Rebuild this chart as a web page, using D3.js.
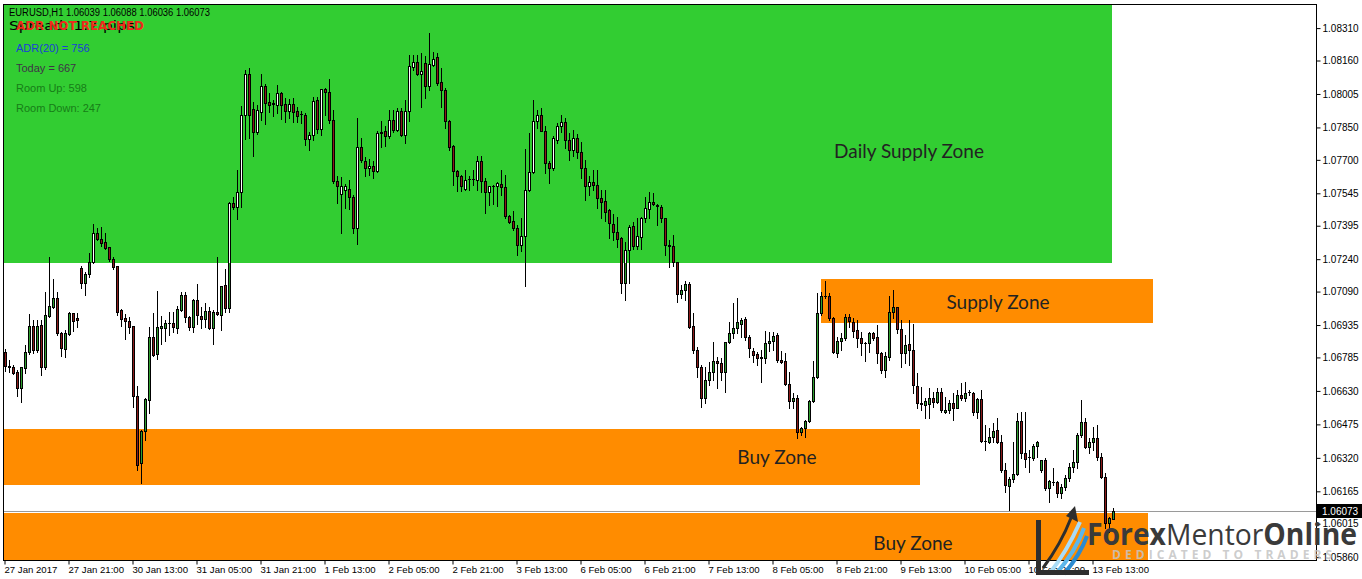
<!DOCTYPE html>
<html><head><meta charset="utf-8">
<script src="https://cdn.jsdelivr.net/npm/d3@7"></script>
<style>body{margin:0;background:#fff}svg{display:block}</style>
</head><body><svg id="c" width="1362" height="579"></svg>
<script>
// ---------------- DATA ----------------
const opens=[1.06810,1.06745,1.06741,1.06718,1.06644,1.06736,1.06810,1.06931,1.06819,1.06935,1.06741,1.06977,1.07019,1.07060,1.06898,1.06824,1.06894,1.06991,1.06968,1.07199,1.07130,1.07171,1.07227,1.07361,1.07333,1.07320,1.07296,1.07241,1.07208,1.07005,1.06968,1.06954,1.06931,1.06607,1.06296,1.06444,1.06588,1.06880,1.06801,1.06921,1.06921,1.06945,1.06945,1.06921,1.07005,1.07074,1.06972,1.06926,1.07051,1.06977,1.06963,1.07000,1.06921,1.06995,1.06982,1.07120,1.07014,1.07500,1.07482,1.07551,1.07908,1.08097,1.07935,1.07829,1.07921,1.08042,1.07968,1.07963,1.07954,1.08009,1.07958,1.07926,1.07958,1.07926,1.07912,1.07908,1.07796,1.07815,1.07977,1.07843,1.08028,1.08014,1.07884,1.07602,1.07542,1.07560,1.07565,1.07528,1.07384,1.07759,1.07695,1.07662,1.07671,1.07648,1.07829,1.07833,1.07810,1.07884,1.07838,1.07926,1.07815,1.07926,1.08130,1.08153,1.08097,1.08148,1.08042,1.08139,1.08176,1.08060,1.08023,1.07880,1.07764,1.07648,1.07625,1.07565,1.07611,1.07611,1.07607,1.07695,1.07602,1.07551,1.07579,1.07579,1.07588,1.07574,1.07440,1.07417,1.07384,1.07306,1.07347,1.07560,1.07644,1.07880,1.07908,1.07833,1.07685,1.07662,1.07792,1.07857,1.07875,1.07792,1.07745,1.07801,1.07736,1.07662,1.07579,1.07597,1.07583,1.07523,1.07509,1.07468,1.07403,1.07366,1.07338,1.07130,1.07282,1.07394,1.07301,1.07343,1.07431,1.07472,1.07505,1.07486,1.07482,1.07431,1.07306,1.07301,1.07227,1.07079,1.07097,1.07125,1.06931,1.06819,1.06741,1.06597,1.06681,1.06718,1.06769,1.06759,1.06718,1.06857,1.06898,1.06921,1.06940,1.06963,1.06880,1.06815,1.06801,1.06782,1.06782,1.06852,1.06861,1.06889,1.06773,1.06769,1.06662,1.06583,1.06597,1.06440,1.06458,1.06491,1.06583,1.06694,1.06991,1.07070,1.07070,1.06968,1.06806,1.06861,1.06875,1.06972,1.06949,1.06912,1.06875,1.06852,1.06852,1.06898,1.06880,1.06806,1.06727,1.06787,1.06995,1.07019,1.06917,1.06806,1.06847,1.06819,1.06653,1.06574,1.06565,1.06569,1.06597,1.06579,1.06625,1.06532,1.06542,1.06574,1.06551,1.06611,1.06597,1.06625,1.06620,1.06532,1.06593,1.06398,1.06394,1.06417,1.06449,1.06394,1.06264,1.06190,1.06222,1.06245,1.06491,1.06343,1.06324,1.06319,1.06375,1.06264,1.06310,1.06181,1.06208,1.06208,1.06157,1.06185,1.06227,1.06278,1.06301,1.06426,1.06486,1.06370,1.06394,1.06412,1.06324,1.06231,1.06019,1.06039];
const highs=[1.06824,1.06773,1.06750,1.06727,1.06741,1.06843,1.06986,1.06958,1.06958,1.06958,1.07088,1.07250,1.07148,1.07088,1.06903,1.06912,1.06995,1.06991,1.06991,1.07208,1.07181,1.07269,1.07403,1.07384,1.07389,1.07361,1.07296,1.07250,1.07208,1.07009,1.06986,1.06972,1.06931,1.06653,1.06449,1.06597,1.06926,1.06991,1.07093,1.06977,1.06958,1.06995,1.06995,1.07023,1.07088,1.07088,1.06977,1.07056,1.07125,1.07019,1.07037,1.07019,1.07005,1.07250,1.07116,1.07195,1.07505,1.07528,1.07653,1.07949,1.08116,1.08125,1.07968,1.07954,1.08097,1.08051,1.08009,1.07977,1.08046,1.08014,1.07986,1.07982,1.07986,1.07945,1.07926,1.07917,1.07829,1.07991,1.07991,1.08028,1.08033,1.08074,1.07931,1.07625,1.07620,1.07588,1.07607,1.07537,1.07894,1.07801,1.07713,1.07704,1.07695,1.07833,1.07880,1.07857,1.07931,1.07931,1.07940,1.07940,1.07977,1.08185,1.08185,1.08185,1.08195,1.08181,1.08287,1.08199,1.08195,1.08125,1.08033,1.07884,1.07769,1.07653,1.07630,1.07653,1.07625,1.07653,1.07718,1.07718,1.07616,1.07579,1.07583,1.07597,1.07653,1.07630,1.07445,1.07463,1.07398,1.07431,1.07750,1.07824,1.07977,1.07931,1.07940,1.07857,1.07695,1.07810,1.07871,1.07908,1.07894,1.07824,1.07838,1.07820,1.07783,1.07699,1.07625,1.07653,1.07653,1.07560,1.07560,1.07472,1.07449,1.07435,1.07343,1.07320,1.07398,1.07412,1.07431,1.07435,1.07528,1.07551,1.07546,1.07495,1.07491,1.07431,1.07329,1.07352,1.07227,1.07120,1.07139,1.07134,1.06991,1.06833,1.06750,1.06741,1.06764,1.06857,1.06787,1.06782,1.06857,1.06949,1.07037,1.07060,1.06968,1.06972,1.06889,1.06829,1.06810,1.06819,1.06907,1.06903,1.06903,1.06898,1.06815,1.06806,1.06718,1.06620,1.06611,1.06463,1.06495,1.06588,1.06769,1.07083,1.07088,1.07139,1.07083,1.06972,1.06880,1.06898,1.06986,1.06986,1.06968,1.06958,1.06903,1.06857,1.06903,1.06903,1.06935,1.06810,1.06810,1.07070,1.07097,1.07019,1.06958,1.06889,1.06958,1.06940,1.06713,1.06648,1.06595,1.06644,1.06625,1.06644,1.06644,1.06602,1.06588,1.06620,1.06634,1.06667,1.06671,1.06634,1.06625,1.06597,1.06634,1.06472,1.06458,1.06482,1.06505,1.06426,1.06296,1.06231,1.06394,1.06528,1.06532,1.06532,1.06356,1.06384,1.06398,1.06310,1.06319,1.06218,1.06273,1.06213,1.06199,1.06241,1.06296,1.06356,1.06435,1.06588,1.06505,1.06412,1.06463,1.06472,1.06343,1.06250,1.06046,1.06088];
const lows=[1.06722,1.06718,1.06708,1.06607,1.06579,1.06713,1.06801,1.06806,1.06810,1.06704,1.06732,1.06972,1.07014,1.06889,1.06792,1.06787,1.06889,1.06907,1.06926,1.07107,1.07074,1.07157,1.07222,1.07329,1.07301,1.07287,1.07232,1.07195,1.06982,1.06931,1.06870,1.06898,1.06556,1.06264,1.06204,1.06403,1.06528,1.06792,1.06778,1.06847,1.06861,1.06889,1.06903,1.06898,1.07000,1.06949,1.06912,1.06903,1.06940,1.06921,1.06926,1.06917,1.06847,1.06982,1.06912,1.06995,1.06995,1.07472,1.07426,1.07482,1.07796,1.07801,1.07718,1.07820,1.07884,1.07866,1.07921,1.07903,1.07917,1.07889,1.07875,1.07894,1.07875,1.07875,1.07871,1.07769,1.07745,1.07792,1.07824,1.07815,1.07908,1.07871,1.07593,1.07500,1.07361,1.07477,1.07472,1.07361,1.07310,1.07690,1.07625,1.07630,1.07616,1.07644,1.07759,1.07764,1.07801,1.07829,1.07833,1.07810,1.07778,1.07880,1.08116,1.08093,1.07945,1.07986,1.08023,1.08134,1.08046,1.07945,1.07847,1.07745,1.07583,1.07556,1.07556,1.07560,1.07560,1.07583,1.07560,1.07551,1.07454,1.07491,1.07495,1.07486,1.07537,1.07431,1.07408,1.07375,1.07259,1.07278,1.07116,1.07556,1.07639,1.07847,1.07833,1.07639,1.07593,1.07653,1.07778,1.07829,1.07755,1.07699,1.07718,1.07708,1.07616,1.07514,1.07537,1.07560,1.07477,1.07431,1.07417,1.07338,1.07329,1.07296,1.07083,1.07051,1.07130,1.07287,1.07287,1.07287,1.07412,1.07431,1.07491,1.07398,1.07412,1.07259,1.07204,1.07208,1.07042,1.07060,1.07051,1.06921,1.06806,1.06694,1.06556,1.06574,1.06657,1.06681,1.06644,1.06681,1.06625,1.06852,1.06875,1.06898,1.06880,1.06866,1.06787,1.06764,1.06750,1.06671,1.06759,1.06815,1.06819,1.06764,1.06759,1.06657,1.06551,1.06551,1.06412,1.06426,1.06417,1.06486,1.06579,1.06690,1.06982,1.07060,1.06958,1.06806,1.06787,1.06819,1.06866,1.06926,1.06880,1.06833,1.06796,1.06769,1.06810,1.06866,1.06759,1.06713,1.06694,1.06773,1.06968,1.06898,1.06741,1.06759,1.06750,1.06620,1.06551,1.06542,1.06505,1.06505,1.06556,1.06574,1.06532,1.06528,1.06528,1.06495,1.06551,1.06588,1.06583,1.06611,1.06519,1.06505,1.06394,1.06356,1.06389,1.06394,1.06389,1.06255,1.06162,1.06079,1.06208,1.06241,1.06319,1.06278,1.06255,1.06310,1.06324,1.06255,1.06171,1.06116,1.06194,1.06139,1.06134,1.06171,1.06213,1.06255,1.06273,1.06417,1.06366,1.06343,1.06356,1.06310,1.06227,1.05995,1.05977,1.06036];
const closes=[1.06745,1.06741,1.06713,1.06644,1.06741,1.06810,1.06931,1.06819,1.06931,1.06741,1.06982,1.07023,1.07060,1.06898,1.06829,1.06898,1.06991,1.06954,1.06958,1.07130,1.07171,1.07227,1.07361,1.07333,1.07315,1.07292,1.07241,1.07204,1.06995,1.06963,1.06954,1.06926,1.06607,1.06287,1.06444,1.06593,1.06880,1.06796,1.06926,1.06931,1.06945,1.06943,1.06926,1.07009,1.07074,1.06972,1.06926,1.07051,1.06982,1.06963,1.07000,1.06921,1.06995,1.06986,1.07116,1.07014,1.07500,1.07482,1.07551,1.07908,1.08097,1.07908,1.07829,1.07931,1.08042,1.07963,1.07954,1.07960,1.08009,1.07954,1.07926,1.07958,1.07921,1.07903,1.07910,1.07796,1.07815,1.07972,1.07843,1.08028,1.08014,1.07884,1.07602,1.07579,1.07579,1.07579,1.07528,1.07384,1.07759,1.07699,1.07662,1.07671,1.07648,1.07824,1.07826,1.07810,1.07884,1.07838,1.07926,1.07815,1.07926,1.08134,1.08153,1.08097,1.08111,1.08042,1.08144,1.08167,1.08056,1.08023,1.07880,1.07759,1.07648,1.07625,1.07579,1.07607,1.07609,1.07613,1.07695,1.07602,1.07551,1.07579,1.07577,1.07593,1.07574,1.07440,1.07412,1.07384,1.07306,1.07347,1.07560,1.07644,1.07880,1.07908,1.07833,1.07685,1.07662,1.07801,1.07857,1.07875,1.07792,1.07745,1.07801,1.07736,1.07662,1.07579,1.07597,1.07583,1.07523,1.07505,1.07458,1.07408,1.07366,1.07333,1.07130,1.07282,1.07389,1.07301,1.07347,1.07431,1.07477,1.07505,1.07495,1.07491,1.07431,1.07306,1.07301,1.07227,1.07079,1.07097,1.07125,1.06926,1.06819,1.06741,1.06597,1.06681,1.06718,1.06769,1.06759,1.06718,1.06857,1.06898,1.06921,1.06949,1.06958,1.06880,1.06829,1.06796,1.06782,1.06787,1.06852,1.06861,1.06884,1.06773,1.06764,1.06662,1.06583,1.06597,1.06440,1.06458,1.06491,1.06583,1.06694,1.06991,1.07070,1.07068,1.06968,1.06810,1.06861,1.06875,1.06972,1.06954,1.06907,1.06875,1.06852,1.06850,1.06898,1.06875,1.06806,1.06727,1.06792,1.06995,1.07019,1.06917,1.06806,1.06843,1.06819,1.06657,1.06574,1.06569,1.06584,1.06597,1.06579,1.06625,1.06542,1.06542,1.06574,1.06551,1.06611,1.06597,1.06620,1.06623,1.06532,1.06593,1.06398,1.06396,1.06417,1.06444,1.06394,1.06264,1.06194,1.06222,1.06245,1.06491,1.06343,1.06315,1.06322,1.06375,1.06394,1.06310,1.06181,1.06213,1.06206,1.06157,1.06185,1.06227,1.06278,1.06301,1.06426,1.06486,1.06370,1.06394,1.06412,1.06324,1.06231,1.06019,1.06042,1.06073];

const xTickIndex=[0,16,32,48,64,80,96,112,128,144,160,176,192,208,224,240,256,272];
const xTickLabels=["27 Jan 2017","27 Jan 21:00","30 Jan 13:00","31 Jan 05:00","31 Jan 21:00","1 Feb 13:00","2 Feb 05:00","2 Feb 21:00","3 Feb 13:00","6 Feb 05:00","6 Feb 21:00","7 Feb 13:00","8 Feb 05:00","8 Feb 21:00","9 Feb 13:00","10 Feb 05:00","10 Feb 21:00","13 Feb 13:00"];
const yTicks=[1.08310,1.08160,1.08005,1.07850,1.07700,1.07545,1.07395,1.07240,1.07090,1.06935,1.06785,1.06630,1.06475,1.06320,1.06165,1.06015,1.05860];
const currentPrice=1.06073;

// zones (time index span, price span)
const zoneNames=["Daily Supply Zone","Supply Zone","Buy Zone","Buy Zone"];
const zoneFrom=[-2,204,-2,-2];
const zoneTo=[276.75,287,228.75,285.75];
const zoneTop=[1.0850,1.07148,1.06454,1.06065];
const zoneBottom=[1.07224,1.06945,1.06194,1.0570];
const zoneKind=["daily","supply","buy","buy"];

const infoLines=["ADR(20) = 756","Today = 667","Room Up: 598","Room Down: 247"];
const headerText="EURUSD,H1  1.06039 1.06088 1.06036 1.06073";

// ---------------- LAYOUT / STYLE ----------------
const P={l:4,t:5,r:1316,b:560};
const svg=d3.select("#c");
const x=d3.scaleLinear().domain([0,opens.length-1]).range([5,5+4*(opens.length-1)]);
const y=d3.scaleLinear().domain([1.05847,1.08417]).range([P.b,P.t]);
const GREEN="#32CD32", ORANGE="#FF8C00", BULL="#2f9e2f", BEAR="#8b1a1a";

svg.append("rect").attr("width",1362).attr("height",579).attr("fill","#fff");
const defs=svg.append("defs");
defs.append("clipPath").attr("id","plot").append("rect").attr("x",P.l).attr("y",P.t).attr("width",P.r-P.l).attr("height",P.b-P.t);

const gPlot=svg.append("g").attr("clip-path","url(#plot)");
const zoneFill={daily:GREEN,supply:ORANGE,buy:ORANGE};
const zoneIdx=d3.range(zoneNames.length);
gPlot.selectAll("rect.zone").data(zoneIdx).join("rect").attr("class","zone")
  .attr("x",i=>Math.round(x(zoneFrom[i])))
  .attr("y",i=>Math.round(y(zoneTop[i])))
  .attr("width",i=>Math.round(x(zoneTo[i]))-Math.round(x(zoneFrom[i])))
  .attr("height",i=>Math.round(y(zoneBottom[i]))-Math.round(y(zoneTop[i])))
  .attr("fill",i=>zoneFill[zoneKind[i]]);

// clip for green zone (bull bodies appear white there)
defs.append("clipPath").attr("id","gz").append("rect")
  .attr("x",Math.round(x(zoneFrom[0]))).attr("y",Math.round(y(zoneTop[0])))
  .attr("width",Math.round(x(zoneTo[0]))-Math.round(x(zoneFrom[0])))
  .attr("height",Math.round(y(zoneBottom[0]))-Math.round(y(zoneTop[0])));

// zone labels
const labelPos=[[226,1.07745],[248.25,1.07042],[193,1.06324],[227,1.05926]];
const labelSize=[19,19,19,19];
gPlot.selectAll("text.zl").data(zoneIdx).join("text").attr("class","zl")
  .attr("x",i=>x(labelPos[i][0])).attr("y",i=>y(labelPos[i][1]))
  .attr("text-anchor","middle").attr("dominant-baseline","central")
  .attr("font-family","Lato, 'Open Sans', sans-serif").attr("font-size",i=>labelSize[i])
  .attr("fill","#222").text(i=>zoneNames[i]);

// current price line
gPlot.append("line").attr("x1",P.l).attr("x2",P.r).attr("y1",Math.round(y(currentPrice))+0.5).attr("y2",Math.round(y(currentPrice))+0.5)
  .attr("stroke","#9a9a9a").attr("stroke-width",1);

// candles
const idx=d3.range(opens.length);
const cx=i=>Math.round(x(i));
const gC=gPlot.append("g");
gC.selectAll("line.w").data(idx).join("line").attr("class","w")
  .attr("x1",i=>cx(i)+0.5).attr("x2",i=>cx(i)+0.5)
  .attr("y1",i=>Math.round(y(highs[i]))).attr("y2",i=>Math.round(y(lows[i]))+1)
  .attr("stroke","#000").attr("stroke-width",1);
function bodies(g,fillFn){
  const bt=i=>Math.round(Math.min(y(opens[i]),y(closes[i])));
  const bh=i=>Math.round(Math.max(y(opens[i]),y(closes[i])))-bt(i);
  g.selectAll("rect.b").data(idx.filter(i=>bh(i)>=1)).join("rect").attr("class","b")
    .attr("x",i=>cx(i)-0.5).attr("y",i=>bt(i)+0.5).attr("width",2).attr("height",i=>bh(i))
    .attr("fill",fillFn).attr("stroke","#000").attr("stroke-width",1);
  g.selectAll("line.d").data(idx.filter(i=>bh(i)<1)).join("line").attr("class","d")
    .attr("x1",i=>cx(i)-1).attr("x2",i=>cx(i)+2).attr("y1",i=>bt(i)+0.5).attr("y2",i=>bt(i)+0.5)
    .attr("stroke","#000").attr("stroke-width",1);
}
bodies(gC,i=>closes[i]>=opens[i]?BULL:BEAR);
const gW=gPlot.append("g").attr("clip-path","url(#gz)");
bodies(gW,i=>closes[i]>=opens[i]?"#ffffff":BEAR);

// frame
svg.append("rect").attr("x",P.l-0.5).attr("y",P.t-0.5).attr("width",P.r-P.l+1).attr("height",P.b-P.t+1)
  .attr("fill","none").attr("stroke","#000").attr("stroke-width",1);

// axes
const xAxis=d3.axisBottom(x).tickValues(xTickIndex).tickFormat((d,i)=>xTickLabels[i]).tickSize(4).tickSizeOuter(0);
const gx=svg.append("g").attr("transform",`translate(0,${P.b+0.5})`).call(xAxis);
gx.select(".domain").remove();
gx.selectAll(".tick line").attr("stroke","#000").attr("transform","translate(-0.5,0)");
gx.selectAll(".tick text").attr("text-anchor","start").attr("dx",-1).attr("y",6)
  .attr("font-family","'Liberation Sans', Arial, sans-serif").attr("font-size",9.6).attr("fill","#000");

const yAxis=d3.axisRight(y).tickValues(yTicks).tickFormat(d3.format(".5f")).tickSize(4).tickSizeOuter(0);
const gy=svg.append("g").attr("transform",`translate(${P.r+0.5},0)`).call(yAxis);
gy.select(".domain").remove();
gy.selectAll(".tick line").attr("stroke","#000");
gy.selectAll(".tick text").attr("x",6).attr("font-family","'Liberation Sans', Arial, sans-serif").attr("font-size",10).attr("fill","#000");

// current price label
const cy=Math.round(y(currentPrice));
svg.append("rect").attr("x",P.r+1).attr("y",cy-7).attr("width",45).attr("height",14).attr("fill","#000");
svg.append("text").attr("x",P.r+6).attr("y",cy).attr("dominant-baseline","central")
  .attr("font-family","'Liberation Sans', Arial, sans-serif").attr("font-size",10).attr("fill","#fff").text(d3.format(".5f")(currentPrice));

// header & indicator texts
svg.append("text").attr("x",9).attr("y",16).attr("font-family","'Liberation Sans', Arial, sans-serif").attr("font-size",10)
  .attr("textLength",201).attr("lengthAdjust","spacingAndGlyphs").attr("fill","#000").text(headerText);
svg.append("text").attr("x",9).attr("y",30).attr("font-family","'DejaVu Sans', sans-serif").attr("font-size",12.5)
  .attr("textLength",126).attr("lengthAdjust","spacingAndGlyphs").attr("fill","#000").text("Spread: 1.7 pips");
svg.append("text").attr("x",16).attr("y",29.5).attr("font-family","'DejaVu Sans', sans-serif").attr("font-size",12.5).attr("font-weight","bold")
  .attr("textLength",128).attr("lengthAdjust","spacingAndGlyphs").attr("fill","#ee2a1c").text("ADR NOT REACHED");
const infoColors=["#1a3fd8","#3f3346","#177e17","#177e17"];
const infoY=[52,72,92,112];
svg.selectAll("text.info").data(infoLines).join("text").attr("class","info")
  .attr("x",16).attr("y",(d,i)=>infoY[i]).attr("font-family","'Liberation Sans', Arial, sans-serif").attr("font-size",11)
  .attr("fill",(d,i)=>infoColors[i]).text(d=>d);

// logo
const lg=svg.append("g");
lg.append("path").attr("d","M1049,574 C1062,558 1072,540 1080,522").attr("stroke","#a9dcf7").attr("stroke-width",4).attr("fill","none");
lg.append("path").attr("d","M1056,574 C1068,560 1078,545 1084,528").attr("stroke","#5db6ea").attr("stroke-width",4).attr("fill","none");
lg.append("path").attr("d","M1064,574 C1074,562 1082,550 1087,536").attr("stroke","#2b8ad0").attr("stroke-width",4).attr("fill","none");
lg.append("path").attr("d","M1036,520 h5 v50 h48 v5 h-53 z").attr("fill","#2e2e2e");
lg.append("path").attr("d","M1043,568 C1055,552 1064,536 1071,518").attr("stroke","#2e2e2e").attr("stroke-width",3).attr("fill","none");
lg.append("path").attr("d","M1075,506 L1078,522 L1066,516 Z").attr("fill","#2e2e2e");
const lt=lg.append("text").attr("x",1087).attr("y",545).attr("font-family","'Open Sans', Lato, sans-serif").attr("font-size",30)
  .attr("textLength",270).attr("lengthAdjust","spacingAndGlyphs").attr("fill","#3a3a3a");
lt.append("tspan").attr("font-weight","bold").text("Forex");
lt.append("tspan").text("Mentor");
lt.append("tspan").attr("font-weight","bold").text("Online");
lg.append("text").attr("x",1112).attr("y",559).attr("font-family","'Open Sans', sans-serif").attr("font-size",12).attr("font-weight","bold")
  .attr("textLength",220).attr("lengthAdjust","spacing").attr("fill","#c4c4c4").attr("fill-opacity",0.85).text("DEDICATED TO TRADERS");
</script></body></html>
